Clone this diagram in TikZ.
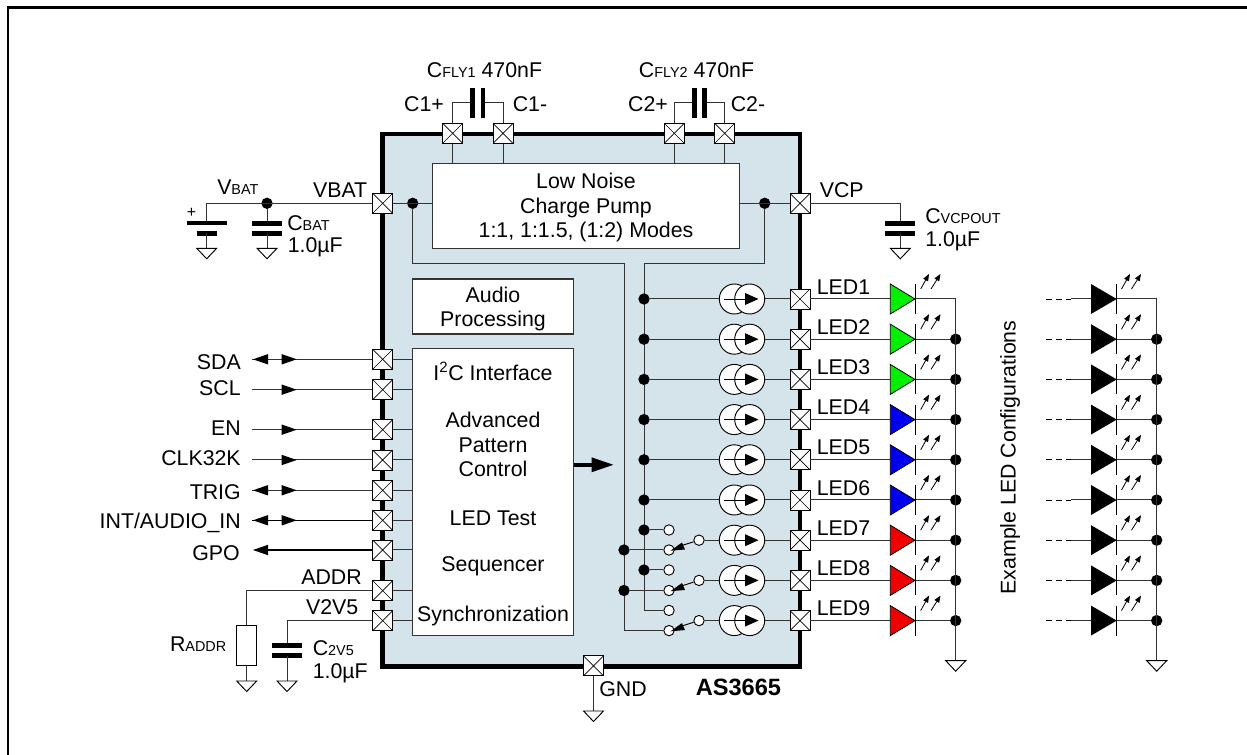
\documentclass[tikz,border=0pt]{standalone}
\usepackage{fontspec}
\setmainfont{Liberation Sans}
\usetikzlibrary{arrows.meta}
\definecolor{chipfill}{HTML}{D5E3EB}
\definecolor{ledgreen}{HTML}{00F000}
\definecolor{ledblue}{HTML}{0000F0}
\definecolor{ledred}{HTML}{F00000}
\definecolor{wire}{HTML}{333333}
\newcommand{\tf}{\fontsize{16}{18}\selectfont}
\newcommand{\sm}[1]{{\fontsize{10.8}{13}\selectfont #1}}
\tikzset{
  x=0.75pt,y=-0.75pt,
  wire/.style={draw=wire,line width=0.75pt},
  pinbox/.style={draw=black,fill=white,minimum size=15pt,inner sep=0pt,line width=0.7pt,path picture={
    \draw[line width=0.5pt] (path picture bounding box.north west)--(path picture bounding box.south east)
      (path picture bounding box.north east)--(path picture bounding box.south west);}},
  dot/.style={circle,fill=black,draw=none,minimum size=8.5pt,inner sep=0pt},
  contact/.style={circle,fill=white,draw=black,line width=0.7pt,minimum size=7.8pt,inner sep=0pt},
  block/.style={draw=wire,fill=white,line width=0.8pt},
  lbl/.style={font=\tf,inner sep=0pt,text=black},
  plate/.style={draw=black,line width=3.7pt},
  gndsym/.style={draw=black,fill=white,line width=0.7pt},
  csrc/.style={circle,draw=black,fill=white,line width=0.7pt,minimum size=22.5pt,inner sep=0pt},
  lit/.style={draw=black,line width=0.6pt,-{Triangle[length=5.2pt,width=4pt]}},
}
\newcommand{\gnd}[2]{\draw[gndsym] (#1-10,#2) -- (#1+10,#2) -- (#1,#2+10.5) -- cycle;}
\newcommand{\tipR}[2]{\fill (#1,#2-5.2) -- (#1+15,#2) -- (#1,#2+5.2) -- cycle;}
\newcommand{\tipL}[2]{\fill (#1,#2) -- (#1+15,#2-5.2) -- (#1+15,#2+5.2) -- cycle;}
\begin{document}
\begin{tikzpicture}
\useasboundingbox (0,0) rectangle (1247,755);
\draw[line width=1.8pt] (8.2,755) -- (8.2,7.7) -- (1247,7.7);
% chip
\draw[fill=chipfill,line width=3.7pt] (382.7,134) rectangle (800,666.6);
% inner blocks
\node[block,inner sep=0pt,minimum width=230.25pt,minimum height=64.05pt] (cp) at (586.2,206) {};
\node[lbl,align=center] (cptxt) at (586,207.5) {Low Noise\\[0.4pt]Charge Pump\\[0.4pt]1:1, 1:1.5, (1:2) Modes};
\node[block,inner sep=0pt,minimum width=120.7pt,minimum height=41.25pt] (aud) at (493.2,306.5) {};
\node[lbl,align=center] (audio) at (493,309) {Audio\\[0.4pt]Processing};
\node[block,inner sep=0pt,minimum width=120.7pt,minimum height=215pt] (ctl) at (493.2,492.3) {};
\node[lbl] (t1) at (493,371.5) {I\textsuperscript{2}C Interface};
\node[lbl,align=center] (t2) at (493,444.5) {Advanced\\[0.4pt]Pattern\\[0.4pt]Control};
\node[lbl] (t3) at (493,518) {LED Test};
\node[lbl] (t4) at (493,566) {Sequencer};
\node[lbl] (t5) at (493,616) {Synchronization};
\coordinate (ctlout) at (613,464.8);
\draw[line width=3pt] (ctl.east |- ctlout) -- (592,464.8);
\fill (591.5,457.3) -- (613.3,464.8) -- (591.5,472.3) -- cycle;
% top pins
\foreach \n/\x in {p1/452.7,p2/503,p3/674.3,p4/724.7}{
  \node[pinbox] (\n) at (\x,133.3) {};
  \draw[wire] (\n) -- (\n |- cp.north);
}
\foreach \a/\b/\cx in {p1/p2/477.8,p3/p4/699.5}{
  \draw[wire] (\a.north) |- (\cx-5,103);
  \draw[wire] (\b.north) |- (\cx+5,103);
  \draw[plate] (\cx-5.2,88) -- (\cx-5.2,118) (\cx+5.2,88) -- (\cx+5.2,118);
}
\node[lbl] (f1) at (484.5,70.5) {C\sm{FLY1} 470nF};
\node[lbl] (f2) at (696.5,70.5) {C\sm{FLY2} 470nF};
\node[lbl] (l1) at (424,104) {C1+};
\node[lbl] (l2) at (530,104) {C1-};
\node[lbl] (l3) at (648,104) {C2+};
\node[lbl] (l4) at (748,104) {C2-};
% VBAT side
\node[pinbox] (pvbat) at (382.7,203.3) {};
\node[pinbox] (pvcp) at (800,203.3) {};
\coordinate (bw) at (206.7,203.3);
\node[dot] (nb) at (267,203.3) {};
\draw[wire] (bw) -- (pvbat);
\draw[wire] (bw) -- (206.7,223);
\draw[plate] (186.7,223) -- (226.7,223) (196.7,233.3) -- (216.7,233.3);
\draw[wire] (206.7,233.3) -- (206.7,248.3);
\gnd{206.7}{248.3}
\node[font=\fontsize{12}{14}\selectfont,inner sep=0pt] (plus) at (191.5,213) {+};
\draw[wire] (nb) -- (267,223);
\draw[plate] (252.3,223.3) -- (282.3,223.3) (252.3,233.5) -- (282.3,233.5);
\draw[wire] (267,233.5) -- (267,248.3);
\gnd{267}{248.3}
\node[lbl,anchor=west] (vb1) at (217,187.5) {V\sm{BAT}};
\node[lbl,anchor=east] (vb2) at (367.5,190) {VBAT};
\node[lbl,anchor=west] (cb1) at (287,223) {C\sm{BAT}};
\node[lbl,anchor=west] (cb2) at (287.5,247.5) {1.0µF};
% VCP side
\draw[wire] (pvcp) -| (900.3,223.3);
\draw[plate] (885.3,223.3) -- (915.3,223.3) (885.3,233.5) -- (915.3,233.5);
\draw[wire] (900.3,233.5) -- (900.3,248.3);
\gnd{900.3}{248.3}
\node[lbl,anchor=west] (vc1) at (819.5,190.5) {VCP};
\node[lbl,anchor=west] (vc2) at (925,216) {C\sm{VCPOUT}};
\node[lbl,anchor=west] (vc3) at (925,241) {1.0µF};
% internal rails
\node[dot] (nl) at (412.7,203.3) {};
\node[dot] (nr) at (764.7,203.3) {};
\draw[wire] (pvbat) -- (pvbat -| cp.west);
\draw[wire] (pvcp) -- (pvcp -| cp.east);
\coordinate (r1a) at (412.7,263.3);\coordinate (r1b) at (624,263.3);\coordinate (r1c) at (624,630.6);
\coordinate (r2a) at (764.7,263.3);\coordinate (r2b) at (644,263.3);\coordinate (r2c) at (644,610.4);
\draw[wire] (nl) -- (r1a) -- (r1b) -- (r1c);
\draw[wire] (nr) -- (r2a) -- (r2b) -- (r2c);
% left pins
\foreach \n/\y in {sda/359.3,scl/389.7,en/429.7,clk/460,trig/490.3,int/520.3,gpo/550,addr/590.7,vv/620.7}{
  \node[pinbox] (\n) at (382.7,\y) {};
  \draw[wire] (\n) -- (\n -| ctl.west);
}
\foreach \n/\y/\ty/\t in {sda/359.3/361.7/SDA,scl/389.7/387.7/SCL,en/429.7/428.3/EN,clk/460/458/CLK32K,trig/490.3/492.3/TRIG}{
  \node[lbl,anchor=east] (\n t) at (241,\ty) {\t};
  \coordinate (\n e) at (252,\y);
  \draw[wire] (\n) -- (\n e);
  \tipR{281.7}{\y}
}
\node[lbl,anchor=east] (intt) at (241,522.5) {INT/AUDIO\_IN};
\coordinate (inte) at (252,520.3);
\draw[draw=black,line width=1pt] (int) -- (inte);
\tipR{281.7}{520.3}
\tipL{253}{359.3}
\tipL{253}{490.3}
\tipL{253}{520.3}
\node[lbl,anchor=east] (gpot) at (240,552.7) {GPO};
\coordinate (gpoe) at (262,550);
\draw[draw=black,line width=1.3pt] (gpo) -- (gpoe);
\tipL{253}{550}
% ADDR, V2V5
\node[lbl,anchor=east] (addrt) at (362,577.5) {ADDR};
\node[lbl,anchor=east] (vvt) at (358.5,607.5) {V2V5};
\node[draw=black,fill=white,line width=0.7pt,minimum width=15pt,minimum height=30pt,inner sep=0pt] (rad) at (246.7,645.7) {};
\draw[wire] (addr) -| (rad.north);
\draw[wire] (rad.south) -- (246.7,681);
\gnd{246.7}{681}
\node[lbl,anchor=east] (radt) at (226.5,644) {R\sm{ADDR}};
\draw[wire] (vv) -| (287,645.7);
\draw[plate] (272,645.7) -- (302,645.7) (272,655.7) -- (302,655.7);
\draw[wire] (287,655.7) -- (287,681);
\gnd{287}{681}
\node[lbl,anchor=west] (c2a) at (312.5,648.5) {C\sm{2V5}};
\node[lbl,anchor=west] (c2b) at (312.5,673) {1.0µF};
% GND
\node[pinbox] (pg) at (593.5,665.8) {};
\coordinate (pgb) at (593.5,711);
\draw[wire] (pg) -- (pgb);
\gnd{593.5}{711}
\node[lbl,anchor=west] (gt) at (599,689) {GND};
\node[inner sep=0pt,font=\fontsize{17.7}{20}\selectfont\bfseries,anchor=west] (chipname) at (695.5,687) {AS3665};
% LED rows
\foreach \i/\y/\c in {1/299/ledgreen,2/339.2/ledgreen,3/379.4/ledgreen,4/419.6/ledblue,5/459.8/ledblue,6/500/ledblue,7/540.2/ledred,8/580.4/ledred,9/620.6/ledred}{
  \node[pinbox] (led\i) at (800,\y) {};
  \node[lbl,anchor=west] (led\i t) at (816.5,\y-12.3) {LED\i};
  \draw[wire] (led\i) -- (890.3,\y);
  \draw[draw=black,fill=\c,line width=0.6pt] (890.3,\y-15) -- (915,\y) -- (890.3,\y+15) -- cycle;
  \draw[draw=black,line width=0.7pt] (915.6,\y-15) -- (915.6,\y+15);
  \draw[wire] (915.6,\y) -- (955.7,\y);
  \draw[lit] (920.7,\y-10) -- (929,\y-25);
  \draw[lit] (931,\y-10) -- (940.5,\y-25);
  % right column
  \coordinate (da\i) at (1071,\y);
  \draw[draw=black,line width=0.7pt,dash pattern=on 4.3pt off 3.2pt] (1046,\y) -- (da\i);
  \draw[wire] (da\i) -- (1091,\y);
  \fill (1091,\y-15) -- (1116.7,\y) -- (1091,\y+15) -- cycle;
  \draw[draw=black,line width=0.7pt] (1116.7,\y-15) -- (1116.7,\y+15);
  \draw[wire] (1116.7,\y) -- (1156.7,\y);
  \draw[lit] (1121.5,\y-10) -- (1130,\y-25);
  \draw[lit] (1131.5,\y-10) -- (1141,\y-25);
  % current sources
  \node[csrc] (ca\i) at (734.3,\y) {};
  \node[csrc] (cb\i) at (749.7,\y) {};
  \draw[draw=black,line width=0.6pt] (724,\y) -- (745,\y);
  \fill (745,\y-6) -- (758.5,\y) -- (745,\y+6) -- cycle;
  \draw[wire] (cb\i) -- (led\i);
}
\foreach \i/\y in {2/339.2,3/379.4,4/419.6,5/459.8,6/500,7/540.2,8/580.4,9/620.6}{
  \node[dot] (ln\i) at (955.7,\y) {};
  \node[dot] (rn\i) at (1156.7,\y) {};
}
\coordinate (lg) at (955.7,660.7);
\coordinate (rg) at (1156.7,660.7);
\draw[wire] (955.7,299) -- (lg);
\draw[wire] (1156.7,299) -- (rg);
\gnd{955.7}{660.7}
\gnd{1156.7}{660.7}
\node[lbl,rotate=90] (ex) at (1010,457.5) {Example LED Configurations};
% rail taps to current sources
\foreach \i/\y in {1/299,2/339.2,3/379.4,4/419.6,5/459.8,6/500}{
  \node[dot] (tp\i) at (644,\y) {};
  \draw[wire] (tp\i) -- (ca\i);
}
\foreach \i/\j/\k/\tap/\y/\yu/\yl in {7/a/b/1/540.2/530/550,8/c/d/1/580.4/570/590.5,9/e/f/0/620.6/610.4/630.6}{
  \node[contact] (s\j) at (669,\yu) {};
  \node[contact] (s\k) at (669,\yl) {};
  \node[contact] (sw\i) at (699,\y) {};
  \draw[wire] (sw\i) -- (ca\i);
  \ifnum\tap=1
    \node[dot] (u\i) at (644,\yu) {};
    \node[dot] (v\i) at (624,\yl) {};
    \draw[wire] (u\i) -- (s\j);
    \draw[wire] (v\i) -- (s\k);
  \else
    \draw[wire] (r2c) -- (s\j);
    \draw[wire] (r1c) -- (s\k);
  \fi
  \draw[draw=black,line width=0.7pt] (sw\i) -- (680,\yl-4);
  \fill (670.5,\yl+0.7) -- (682,\yl-7.5) -- (685,\yl-0.5) -- cycle;
}
\end{tikzpicture}
\end{document}
